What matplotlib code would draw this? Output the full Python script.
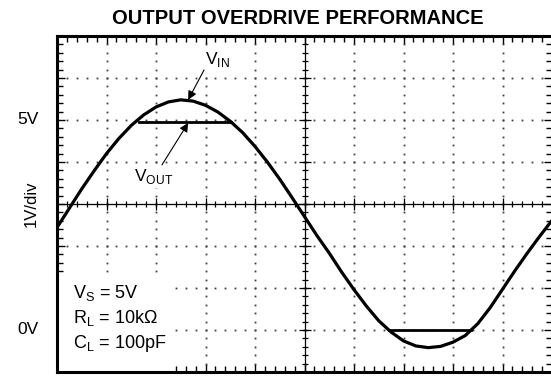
import numpy as np
import matplotlib
matplotlib.use("Agg")
import matplotlib.pyplot as plt
from matplotlib.patches import Rectangle

plt.rcParams['font.family'] = ['Liberation Sans', 'DejaVu Sans']
plt.rcParams['mathtext.fontset'] = 'custom'
plt.rcParams['mathtext.rm'] = 'Liberation Sans'

# time axis in scope divisions, input trace in volts
t_div = [0.0, 0.25, 0.5, 0.75, 1.0, 1.25, 1.5, 1.75, 2.0, 2.25,
         2.5, 2.75, 3.0, 3.25, 3.5, 3.75, 4.0, 4.25, 4.5, 4.75,
         5.0, 5.25, 5.5, 5.75, 6.0, 6.25, 6.5, 6.75, 7.0, 7.25,
         7.5, 7.75, 8.0, 8.25, 8.5, 8.75, 9.0, 9.25, 9.5, 9.75, 10.0]
v_in = [2.44, 2.90, 3.36, 3.79, 4.20, 4.56, 4.87, 5.12, 5.31, 5.43,
        5.48, 5.45, 5.35, 5.19, 4.97, 4.70, 4.37, 4.00, 3.59, 3.15,
        2.70, 2.25, 1.83, 1.38, 0.96, 0.57, 0.22, -0.05, -0.26, -0.38,
        -0.42, -0.39, -0.29, -0.13, 0.15, 0.53, 0.97, 1.41, 1.83, 2.23, 2.61]

# output clips at the rails: (start, end) and level
vout_clip_t = [(1.66, 3.51), (6.70, 8.37)]
vout_clip_v = [4.95, 0.0]

conditions = ['V$_\\mathregular{S}$ = 5V',
              'R$_\\mathregular{L}$ = 10k\u03a9',
              'C$_\\mathregular{L}$ = 100pF']

fig = plt.figure(figsize=(5.51, 3.77), dpi=100)
ax = fig.add_axes([57/551, 5/377, 495/551, 336/377])
ax.set_xlim(0, 10)
ax.set_ylim(-1, 7)

# dotted graticule
dot = dict(ls='', marker='s', ms=1.3, color='0.25', mew=0, zorder=2)
ys = np.arange(-1, 7.001, 0.2)
xs = np.arange(0, 10.001, 0.2)
for gx in [1, 2, 3, 4, 6, 7, 8, 9]:
    ax.plot(np.full_like(ys, gx), ys, **dot)
for gy in [0, 1, 2, 4, 5, 6]:
    ax.plot(xs, np.full_like(xs, gy), **dot)

# blank area behind the test conditions
ax.add_patch(Rectangle((0, 0), 0.232, 0.285, transform=ax.transAxes,
                       facecolor='white', edgecolor='none', zorder=2.1))

# centre cross with its own tick marks
ax.axhline(3, color='k', lw=0.9, zorder=2.3)
ax.axvline(5, color='k', lw=0.9, zorder=2.3)
ax.plot(xs, np.full_like(xs, 3), ls='', marker='|', ms=4.5, mew=0.9, color='k')
ax.plot(np.arange(0, 11), np.full(11, 3), ls='', marker='|', ms=8, mew=0.9, color='k')
ax.plot(np.full_like(ys, 5), ys, ls='', marker='_', ms=4.5, mew=0.9, color='k')
ax.plot(np.full(9, 5), np.arange(-1, 8), ls='', marker='_', ms=8, mew=0.9, color='k')

# border ticks
ax.set_xticks(np.arange(0, 11, 1))
ax.set_xticks(xs, minor=True)
ax.set_yticks(np.arange(-1, 8, 1))
ax.set_yticks(ys, minor=True)
ax.tick_params(which='both', direction='in', top=True, right=True,
               labelbottom=False, labelleft=False, width=1, color='k')
ax.tick_params(which='major', length=6)
ax.tick_params(which='minor', length=4)
for s in ax.spines.values():
    s.set_linewidth(2.2)

# traces
ax.plot(t_div, v_in, color='k', lw=2.3, solid_capstyle='butt', zorder=5)
for (t0, t1), lvl in zip(vout_clip_t, vout_clip_v):
    ax.plot([t0, t1], [lvl, lvl], color='k', lw=2.0, zorder=5)

arrow = dict(arrowstyle='-|>', color='k', lw=0.8, mutation_scale=13,
             shrinkA=0, shrinkB=0)
ax.annotate('', xy=(2.65, 5.48), xytext=(2.97, 6.19), arrowprops=arrow, zorder=6)
ax.annotate('', xy=(2.65, 4.93), xytext=(2.12, 3.93), arrowprops=arrow, zorder=6)
label_box = dict(facecolor='white', edgecolor='none', pad=1.5)
ax.text(3.25, 6.43, 'V$_\\mathregular{IN}$', fontsize=12.5, ha='center',
        va='center', bbox=label_box, zorder=4)
ax.text(1.96, 3.65, 'V$_\\mathregular{OUT}$', fontsize=12.5, ha='center',
        va='center', bbox=label_box, zorder=4)

for i, s in enumerate(conditions):
    ax.text(0.32, 0.88 - 0.6 * i, s, fontsize=13, ha='left', va='center', zorder=4)

# voltage labels
yl = ax.get_yaxis_transform()
ax.text(-0.038, 5, '5V', transform=yl, fontsize=12.5, ha='right', va='center')
ax.text(-0.038, 0, '0V', transform=yl, fontsize=12.5, ha='right', va='center')
ax.text(-0.0525, 3, '1V/div', transform=yl, fontsize=12, ha='center',
        va='center', rotation=90)

fig.text(298/551, 1 - 18/377, 'OUTPUT OVERDRIVE PERFORMANCE',
         ha='center', va='center', fontsize=14.5, fontweight='bold')

fig.savefig('out.png', dpi=100)
